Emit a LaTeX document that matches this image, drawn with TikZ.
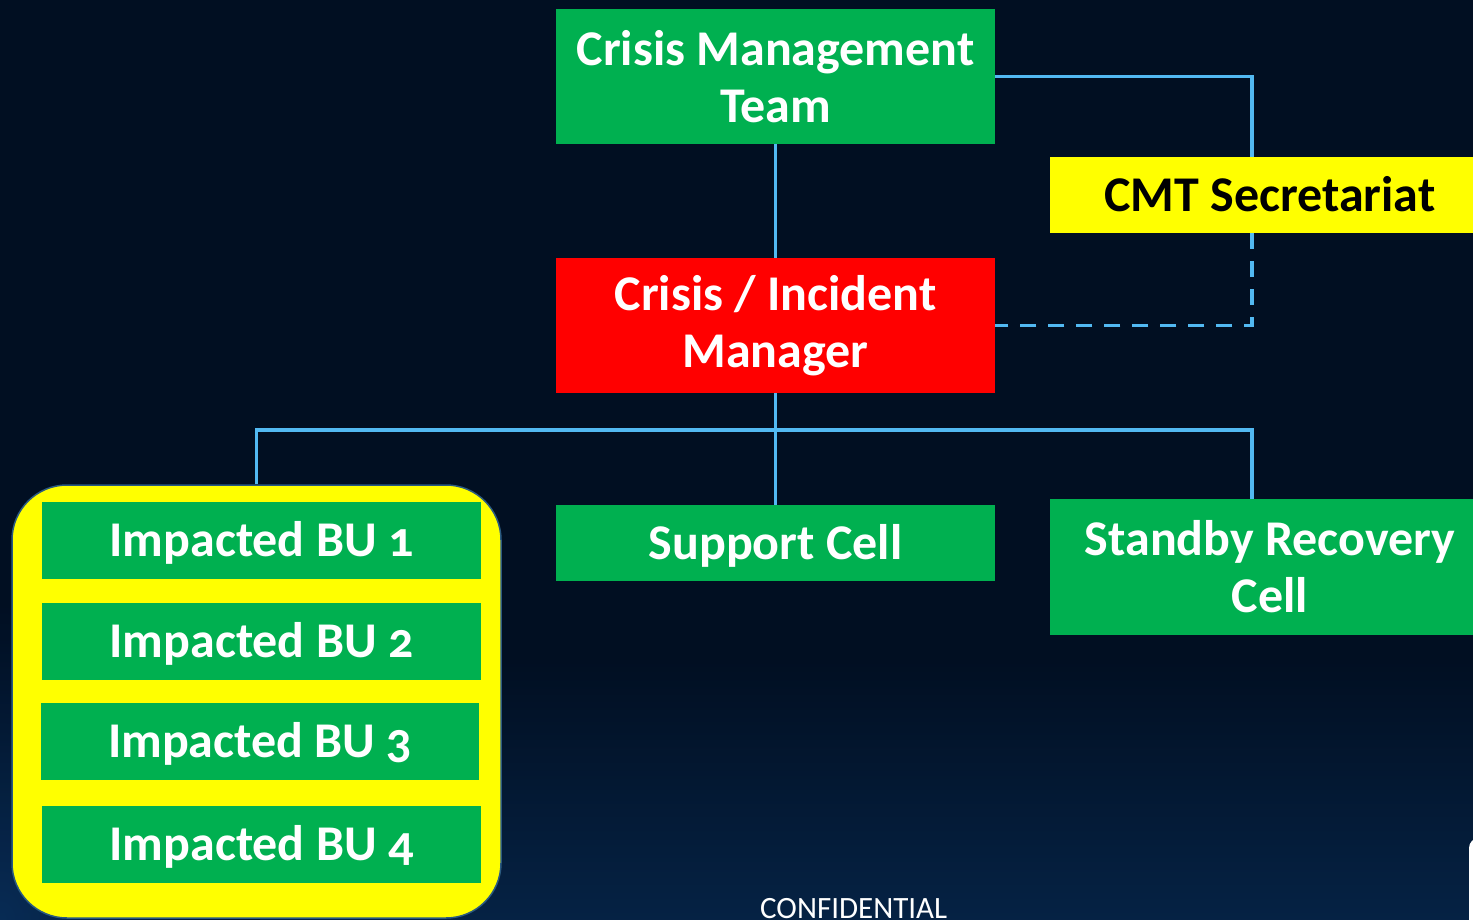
\documentclass[tikz,border=0pt]{standalone}
\usepackage{fontspec}
\setmainfont{Carlito}[Numbers=OldStyle]
\usetikzlibrary{calc}
\definecolor{bgnavy}{HTML}{010F22}
\definecolor{bgblue}{HTML}{0A3566}
\definecolor{boxgreen}{HTML}{00B050}
\definecolor{boxred}{HTML}{FF0000}
\definecolor{boxyellow}{HTML}{FFFF00}
\definecolor{linkblue}{HTML}{52B9F2}
\definecolor{rimblue}{HTML}{2A5A80}
\tikzset{
  unit/.style={rectangle, inner sep=0pt, align=center, font=\bfseries\fontsize{50}{57}\selectfont},
  oneline/.style={text height=42pt, text depth=10pt},
  greenbox/.style={unit, fill=boxgreen, text=white},
  redbox/.style={unit, fill=boxred, text=white},
  yellowbox/.style={unit, fill=boxyellow, text=black},
  link/.style={draw=linkblue, line width=3.5pt},
  dashlink/.style={link, dash pattern=on 16pt off 12pt},
}
\begin{document}
\begin{tikzpicture}[x=1pt, y=-1pt]
  % page and background
  \useasboundingbox (0,0) rectangle (1473,919);
  \fill[bgnavy] (0,0) rectangle (1473,919);
  \shade[top color=bgnavy, bottom color=bgblue!50!bgnavy] (0,660) rectangle (1473,919);
  \shade[inner color=bgblue!85!bgnavy, outer color=bgnavy, opacity=0.7] (0,919) ellipse (260 and 320);
  % white panel peeking in at the lower right
  \fill[white, rounded corners=10pt] (1469,838) rectangle (1520,960);

  % nodes
  \node[greenbox, minimum width=439pt, minimum height=135pt] (cmt) at (775.5,76.5) {Crisis Management\\Team};
  \node[yellowbox, oneline, minimum width=440pt, minimum height=76pt] (sec) at (1270,195) {CMT Secretariat};
  \node[redbox, minimum width=439pt, minimum height=135pt] (cim) at (775.5,325.5) {Crisis / Incident\\Manager};
  \node[greenbox, oneline, minimum width=439pt, minimum height=76pt] (sup) at (775.5,543) {Support Cell};
  \node[greenbox, minimum width=440pt, minimum height=136pt] (sby) at (1270,567) {Standby Recovery\\Cell};

  % impacted business units grouped in a rounded frame
  \node[rectangle, rounded corners=55pt, fill=boxyellow, draw=rimblue, line width=1.5pt,
        minimum width=489pt, minimum height=433pt] (grp) at (256.5,701.5) {};
  \node[greenbox, oneline, minimum width=439pt, minimum height=77pt] (bu1) at (261.5,540.5) {Impacted BU 1};
  \node[greenbox, oneline, minimum width=439pt, minimum height=77pt] (bu2) at (261.5,641.5) {Impacted BU 2};
  \node[greenbox, oneline, minimum width=438pt, minimum height=77pt] (bu3) at (260,741.5) {Impacted BU 3};
  \node[greenbox, oneline, minimum width=439pt, minimum height=77pt] (bu4) at (261.5,844.5) {Impacted BU 4};

  \node[anchor=base west, text=white, font=\fontsize{31}{34}\selectfont, inner sep=0pt] (conf) at (760,918) {CONFIDENTIAL};

  % connectors
  \coordinate (bus) at (0,430);
  \coordinate (secdrop) at ($(sec.north)+(-18,0)$);
  \coordinate (secrise) at ($(sec.south)+(-18,0)$);
  \coordinate (sbydrop) at ($(sby.north)+(-18,0)$);
  \draw[link] (cmt.south) -- (cim.north);
  \draw[link] (cmt.east) -| (secdrop);
  \draw[dashlink] (secrise) |- (cim.east);
  \draw[link] (cim.south) -- (sup.north);
  \draw[link] (grp.north) -- (grp.north |- bus) -- (sbydrop |- bus) -- (sbydrop);
\end{tikzpicture}
\end{document}
